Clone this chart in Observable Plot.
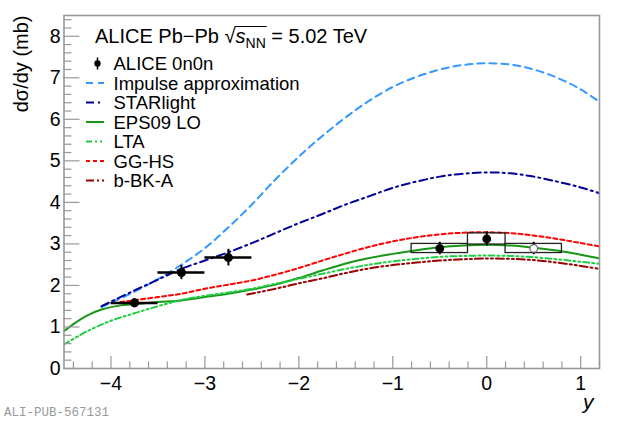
<!DOCTYPE html>
<html>
<head>
<meta charset="utf-8">
<script src="https://cdn.jsdelivr.net/npm/d3@7"></script>
<script src="https://cdn.jsdelivr.net/npm/@observablehq/plot@0.6"></script>
<style>
  body { margin: 0; background: #fff; }
  #chart svg { display: block; }
</style>
</head>
<body>
<div id="chart"></div>
<script>
// ---- Data ----
// ALICE 0n0n forward rapidity points
const fwdY   = [-3.75, -3.25, -2.75];
const fwdLo  = [-4.0, -3.5, -3.0];
const fwdHi  = [-3.5, -3.0, -2.5];
const fwdVal = [1.58, 2.31, 2.67];
const fwdErr = [0.10, 0.17, 0.20];
// ALICE 0n0n mid rapidity points
const midY    = [-0.5, 0.0, 0.5];
const midLo   = [-0.8, -0.2, 0.2];
const midHi   = [-0.2, 0.2, 0.8];
const midVal  = [2.89, 3.12, 2.89];
const midStat = [0.15, 0.17, 0.15];
const midSys  = [0.11, 0.135, 0.11];
const midOpen = [false, false, true];

// Models
const impX = [-4.1, -3.75, -3.5, -3.25, -3.0, -2.75, -2.5, -2.25, -2.0, -1.75, -1.5, -1.25, -1.0, -0.75, -0.5, -0.25, 0, 0.25, 0.5, 0.75, 1.0, 1.2];
const impV = [1.48, 1.85, 2.15, 2.5, 2.9, 3.4, 3.95, 4.55, 5.1, 5.6, 6.05, 6.45, 6.78, 7.02, 7.2, 7.31, 7.35, 7.32, 7.2, 7.0, 6.72, 6.42];

const starX = [-4.1, -3.75, -3.5, -3.25, -3.0, -2.75, -2.5, -2.25, -2.0, -1.75, -1.5, -1.25, -1.0, -0.75, -0.5, -0.25, 0, 0.25, 0.5, 0.75, 1.0, 1.2];
const starV = [1.5, 1.88, 2.14, 2.4, 2.6, 2.8, 3.02, 3.26, 3.5, 3.72, 3.95, 4.15, 4.35, 4.5, 4.62, 4.69, 4.72, 4.7, 4.62, 4.5, 4.36, 4.22];

const epsX = [-4.5, -4.4, -4.25, -4.1, -3.9, -3.75, -3.5, -3.25, -3.0, -2.75, -2.5, -2.25, -2.0, -1.75, -1.5, -1.25, -1.0, -0.75, -0.5, -0.25, 0, 0.25, 0.5, 0.75, 1.0, 1.2];
const epsV = [0.9, 1.07, 1.28, 1.42, 1.52, 1.55, 1.6, 1.64, 1.72, 1.8, 1.9, 2.02, 2.18, 2.36, 2.53, 2.66, 2.76, 2.85, 2.92, 2.96, 2.98, 2.96, 2.91, 2.84, 2.74, 2.65];

const ltaX = [-4.5, -4.25, -4.0, -3.75, -3.5, -3.25, -3.0, -2.75, -2.5, -2.25, -2.0, -1.75, -1.5, -1.25, -1.0, -0.75, -0.5, -0.25, 0, 0.25, 0.5, 0.75, 1.0, 1.2];
const ltaV = [0.58, 0.9, 1.15, 1.33, 1.5, 1.65, 1.75, 1.83, 1.92, 2.04, 2.16, 2.28, 2.4, 2.5, 2.58, 2.64, 2.69, 2.71, 2.72, 2.71, 2.68, 2.63, 2.57, 2.52];

const gghsX = [-3.9, -3.5, -3.25, -3.0, -2.75, -2.5, -2.25, -2.0, -1.75, -1.5, -1.25, -1.0, -0.75, -0.5, -0.25, 0, 0.25, 0.5, 0.75, 1.0, 1.2];
const gghsV = [1.6, 1.72, 1.8, 1.92, 2.02, 2.12, 2.26, 2.42, 2.6, 2.77, 2.93, 3.06, 3.16, 3.23, 3.27, 3.28, 3.26, 3.2, 3.12, 3.02, 2.94];

const bbkX = [-2.55, -2.25, -2.0, -1.75, -1.5, -1.25, -1.0, -0.75, -0.5, -0.25, 0, 0.25, 0.5, 0.75, 1.0, 1.2];
const bbkV = [1.78, 1.92, 2.05, 2.17, 2.3, 2.41, 2.49, 2.55, 2.6, 2.63, 2.65, 2.64, 2.61, 2.55, 2.47, 2.4];

// Axis ticks
const xMajor = [-4, -3, -2, -1, 0, 1];
const xMinor = d3.range(-44, 13, 2).map(v => v / 10).filter(v => !xMajor.includes(v));
const yMajor = [0, 1, 2, 3, 4, 5, 6, 7, 8];
const yMinor = d3.range(0, 86, 2).map(v => v / 10).filter(v => !yMajor.includes(v));

// Legend
const legendTitle = "ALICE Pb\u2212Pb";
const legendLabels = ["ALICE 0n0n", "Impulse approximation", "STARlight", "EPS09 LO", "LTA", "GG-HS", "b-BK-A"];

// ---- Styles ----
const models = [
  {name: "Impulse approximation", x: impX, v: impV, color: "#3399ff", dash: "7,5", w: 2},
  {name: "STARlight", x: starX, v: starV, color: "#000099", dash: "8,4,2,4", w: 2},
  {name: "EPS09 LO", x: epsX, v: epsV, color: "#179617", dash: null, w: 2},
  {name: "LTA", x: ltaX, v: ltaV, color: "#22cc44", dash: "6,3,2,3,2,3", w: 2},
  {name: "GG-HS", x: gghsX, v: gghsV, color: "#ff0000", dash: "4,3", w: 2},
  {name: "b-BK-A", x: bbkX, v: bbkV, color: "#990000", dash: "8,3,2,3,2,3", w: 2}
];

const W = 620, H = 421;
const mL = 63.5, mR = 21, mT = 15, mB = 53;
const innerW = W - mL - mR, innerH = H - mT - mB;

const fwd = fwdY.map((y, i) => ({y, lo: fwdLo[i], hi: fwdHi[i], v: fwdVal[i], e: fwdErr[i]}));
const mid = midY.map((y, i) => ({y, lo: midLo[i], hi: midHi[i], v: midVal[i], e: midStat[i], s: midSys[i], open: midOpen[i]}));

const font = "Liberation Sans, Arial, Helvetica, sans-serif";
const axisColor = "#999";
const fmt = d => d < 0 ? "\u2212" + Math.abs(d) : String(d);

const marks = [];
// model curves
for (const m of models) {
  const data = m.x.map((x, i) => ({x, v: m.v[i]}));
  marks.push(Plot.line(data, {x: "x", y: "v", stroke: m.color, strokeWidth: m.w,
    strokeDasharray: m.dash, curve: "catmull-rom", clip: true}));
}
// systematic boxes
marks.push(Plot.rect(mid, {x1: "lo", x2: "hi", y1: d => d.v - d.s, y2: d => d.v + d.s,
  fill: "none", stroke: "#222", strokeWidth: 1.3}));
// stat error bars
marks.push(Plot.ruleX(mid, {x: "y", y1: d => d.v - d.e, y2: d => d.v + d.e, stroke: "#000", strokeWidth: 2}));
marks.push(Plot.ruleX(fwd, {x: "y", y1: d => d.v - d.e, y2: d => d.v + d.e, stroke: "#000", strokeWidth: 2}));
marks.push(Plot.ruleY(fwd, {y: "v", x1: "lo", x2: "hi", stroke: "#000", strokeWidth: 2.5}));
// points
marks.push(Plot.dot(fwd, {x: "y", y: "v", r: 3.8, fill: "#000", stroke: "#000"}));
marks.push(Plot.dot(mid, {x: "y", y: "v", r: 3.8, fill: d => d.open ? "#fff" : "#000", stroke: d => d.open ? "#666" : "#000", strokeWidth: 1.2}));
// axis ticks (inward)
marks.push(Plot.tickX(xMajor, {x: d => d, insetTop: innerH - 12, stroke: axisColor, strokeWidth: 1.2}));
marks.push(Plot.tickX(xMinor, {x: d => d, insetTop: innerH - 6.5, stroke: axisColor, strokeWidth: 1.2}));
marks.push(Plot.tickY(yMajor, {y: d => d, insetRight: innerW - 16, stroke: axisColor, strokeWidth: 1.2}));
marks.push(Plot.tickY(yMinor, {y: d => d, insetRight: innerW - 8, stroke: axisColor, strokeWidth: 1.2}));
marks.push(Plot.frame({stroke: axisColor, strokeWidth: 1.6}));
// axis labels
marks.push(Plot.axisX({ticks: xMajor, tickSize: 0, tickPadding: 8, fontSize: 19.5, label: null, tickFormat: fmt}));
marks.push(Plot.axisY({ticks: yMajor, tickSize: 0, tickPadding: 3.5, fontSize: 19.5, label: null, tickFormat: fmt}));
marks.push(Plot.text(["y"], {frameAnchor: "bottom-right", dx: -6, dy: 40, textAnchor: "end",
  fontSize: 21, fontStyle: "italic"}));
marks.push(Plot.text(["d\u03c3/dy (mb)"], {frameAnchor: "top-left", dx: -50, dy: 0, rotate: -90,
  textAnchor: "end", fontSize: 20}));

const chart = Plot.plot({
  width: W, height: H,
  marginLeft: mL, marginRight: mR, marginTop: mT, marginBottom: mB,
  style: {fontFamily: font, background: "#fff", color: "#000", overflow: "visible"},
  x: {domain: [-4.5, 1.2]},
  y: {domain: [0, 8.5]},
  marks
});
document.getElementById("chart").appendChild(chart);

// ---- Legend (inside plot, pixel-positioned) ----
const svg = d3.select(chart);
const lg = svg.append("g").attr("font-family", font).attr("fill", "#000").attr("text-anchor", "start");

const title = lg.append("text").attr("x", 95).attr("y", 43).attr("font-size", 20).attr("text-anchor", "start");
title.append("tspan").text(legendTitle + " ");
title.append("tspan").text("\u221a");
title.append("tspan").attr("font-style", "italic").text("s");
title.append("tspan").attr("font-size", 14).attr("dy", 5).text("NN");
title.append("tspan").attr("dy", -5).text(" = 5.02 TeV");
// overline for the square root
{
  const node = title.node();
  const full = node.textContent;
  const iRoot = full.indexOf("\u221a");
  const iN = full.indexOf("NN") + 1;
  const xs = node.getEndPositionOfChar(iRoot).x;
  const xe = node.getEndPositionOfChar(iN).x + 1;
  lg.append("line").attr("x1", xs - 1).attr("x2", xe).attr("y1", 26.5).attr("y2", 26.5)
    .attr("stroke", "#000").attr("stroke-width", 1.2);
}

const baseY = 70, step = 19.5, textX = 113.5, fs = 18.5;
legendLabels.forEach((lab, i) => {
  const by = baseY + i * step;
  lg.append("text").attr("x", textX).attr("y", by).attr("font-size", fs).attr("text-anchor", "start").text(lab);
  const cy = by - 6.5;
  if (i === 0) {
    lg.append("line").attr("x1", 97.5).attr("x2", 97.5).attr("y1", cy - 6).attr("y2", cy + 6)
      .attr("stroke", "#000").attr("stroke-width", 1.5);
    lg.append("circle").attr("cx", 97.5).attr("cy", cy).attr("r", 3.2).attr("fill", "#000");
  } else {
    const m = models[i - 1];
    lg.append("line").attr("x1", 86).attr("x2", 104).attr("y1", cy).attr("y2", cy)
      .attr("stroke", m.color).attr("stroke-width", m.w)
      .attr("stroke-dasharray", m.dash ? m.dash : null);
  }
});

// watermark
svg.append("text").attr("x", 4).attr("y", 416).attr("text-anchor", "start")
  .attr("font-family", "Liberation Mono, DejaVu Sans Mono, monospace")
  .attr("font-size", 12.5).attr("fill", "#999").text("ALI-PUB-567131");
</script>
</body>
</html>
